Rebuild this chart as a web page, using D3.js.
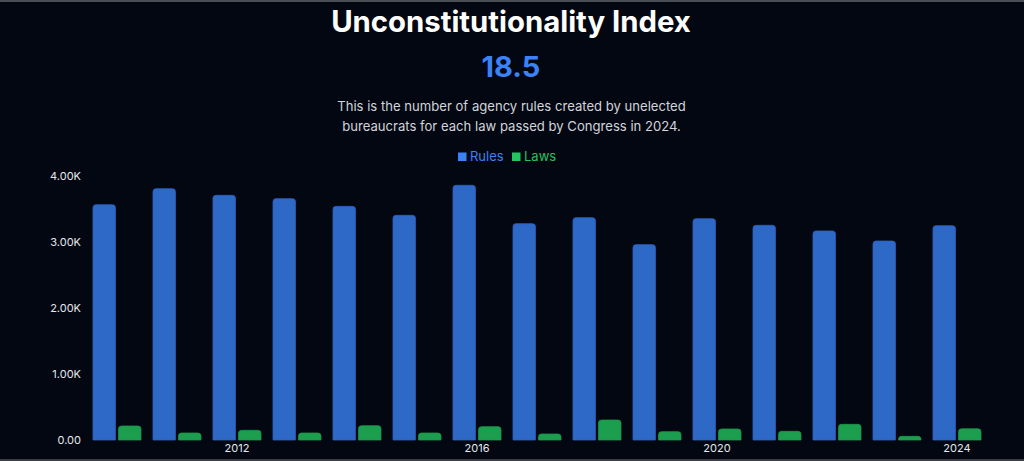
<!DOCTYPE html>
<html>
<head>
<meta charset="utf-8">
<script src="https://cdn.jsdelivr.net/npm/d3@7"></script>
<style>
  html, body { margin: 0; padding: 0; background: #030712; }
  body { width: 1024px; height: 461px; overflow: hidden; font-family: Inter, "Noto Sans", sans-serif; }
</style>
</head>
<body>
<svg id="chart" width="1024" height="461"></svg>
<script>
const years = [2010, 2011, 2012, 2013, 2014, 2015, 2016, 2017, 2018, 2019, 2020, 2021, 2022, 2023, 2024];
const rules = [3565, 3808, 3707, 3657, 3540, 3404, 3859, 3278, 3369, 2960, 3353, 3253, 3167, 3015, 3247];
const laws  = [212, 106, 147, 106, 217, 106, 202, 91, 303, 126, 167, 131, 237, 55, 170];
const seriesNames = ["Rules", "Laws"];
const seriesColors = { Rules: "#3B82F6", Laws: "#22C55E" };
const yTicks = [0, 1000, 2000, 3000, 4000];
const xTickLabels = [2012, 2016, 2020, 2024];
const title = "Unconstitutionality Index";
const bigNumber = "18.5";
const subtitle = ["This is the number of agency rules created by unelected",
                  "bureaucrats for each law passed by Congress in 2024."];

const svg = d3.select("#chart");
const W = 1024, H = 461;

svg.append("rect").attr("width", W).attr("height", H).attr("fill", "#030712");
svg.append("rect").attr("x", 0).attr("y", 0).attr("width", W).attr("height", 2).attr("fill", "#4b4d55");
svg.append("rect").attr("x", 0).attr("y", 459).attr("width", W).attr("height", 2).attr("fill", "#3a3c44");

// Header
svg.append("text").attr("x", 511).attr("y", 31.5).attr("text-anchor", "middle")
  .attr("fill", "#ffffff").attr("font-size", 29.3).attr("font-weight", 700).text(title);
svg.append("text").attr("x", 511).attr("y", 77).attr("text-anchor", "middle")
  .attr("fill", "#3B82F6").attr("font-size", 29).attr("font-weight", 700).text(bigNumber);
subtitle.forEach((line, i) => {
  svg.append("text").attr("x", 511.5).attr("y", 111 + i * 19.5).attr("text-anchor", "middle")
    .attr("fill", "#d1d5db").attr("font-size", 13.1).text(line);
});

// Legend
const legendItems = [{ name: "Rules", x: 458 }, { name: "Laws", x: 512 }];
legendItems.forEach(it => {
  svg.append("rect").attr("x", it.x).attr("y", 152.5).attr("width", 8.5).attr("height", 8.5)
    .attr("fill", seriesColors[it.name]);
  svg.append("text").attr("x", it.x + 12).attr("y", 160.5).attr("fill", seriesColors[it.name])
    .attr("font-size", 13).text(it.name);
});

// Scales
const x0 = d3.scaleBand().domain(years).range([87, 987]).paddingInner(0.2).paddingOuter(0.1);
const x1 = d3.scaleBand().domain(seriesNames).range([0, x0.bandwidth()]).paddingInner(0.12).paddingOuter(0.0);
const y = d3.scaleLinear().domain([0, 4000]).range([440, 176]);

// Y axis
const fmt = v => v === 0 ? "0.00" : (v / 1000).toFixed(2) + "K";
const yAxis = d3.axisLeft(y).tickValues(yTicks).tickFormat(fmt).tickSize(0).tickPadding(0);
const gy = svg.append("g").attr("transform", "translate(81,0)").call(yAxis);
gy.select(".domain").remove();
gy.selectAll("text").attr("fill", "#e5e7eb").attr("font-size", 11).attr("font-family", "Inter, sans-serif");

// X axis
const xAxis = d3.axisBottom(x0).tickValues(xTickLabels).tickSize(0).tickPadding(0);
const gx = svg.append("g").attr("transform", "translate(0,444)").call(xAxis);
gx.select(".domain").remove();
gx.selectAll("text").attr("fill", "#e5e7eb").attr("font-size", 11).attr("font-family", "Inter, sans-serif");

// Bars
function topRounded(x, yTop, w, h, r) {
  r = Math.min(r, h, w / 2);
  return `M${x},${yTop + h} V${yTop + r} Q${x},${yTop} ${x + r},${yTop} H${x + w - r} Q${x + w},${yTop} ${x + w},${yTop + r} V${yTop + h} Z`;
}
const data = years.map((yr, i) => ({ year: yr, Rules: rules[i], Laws: laws[i] }));
const groups = svg.append("g").selectAll("g").data(data).join("g")
  .attr("transform", d => `translate(${x0(d.year)},0)`);
groups.selectAll("path").data(d => seriesNames.map(k => ({ key: k, value: d[k] }))).join("path")
  .attr("d", d => {
    const yt = y(d.value);
    return topRounded(x1(d.key), yt, x1.bandwidth(), y(0) - yt, 3);
  })
  .attr("fill", d => seriesColors[d.key])
  .attr("fill-opacity", 0.8)
  .attr("stroke", d => d.key === "Rules" ? "#2b5fbd" : "#1c9448")
  .attr("stroke-width", 0.8);
</script>
</body>
</html>
